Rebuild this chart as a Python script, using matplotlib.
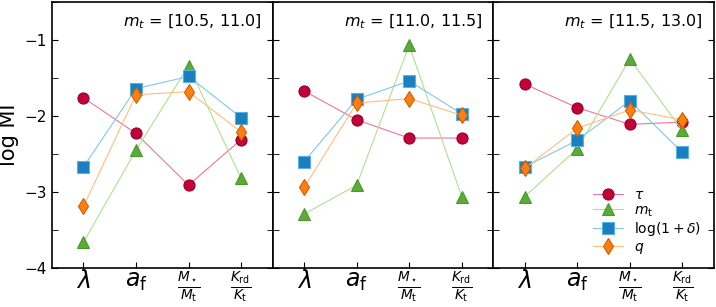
import numpy as np
import matplotlib
matplotlib.use("Agg")
import matplotlib.pyplot as plt
from matplotlib.ticker import MultipleLocator

# data
features = [r'$\lambda$', r'$a_{\rm f}$', r'$\frac{M_\star}{M_{\rm t}}$', r'$\frac{K_{\rm rd}}{K_{\rm t}}$']
bins = ['[10.5, 11.0]', '[11.0, 11.5]', '[11.5, 13.0]']

tau = [[-1.76, -2.23, -2.91, -2.31],
       [-1.67, -2.05, -2.29, -2.29],
       [-1.58, -1.89, -2.11, -2.08]]
mt = [[-3.66, -2.45, -1.34, -2.82],
      [-3.29, -2.91, -1.07, -3.06],
      [-3.06, -2.43, -1.25, -2.19]]
delta = [[-2.67, -1.64, -1.48, -2.02],
         [-2.60, -1.78, -1.54, -1.97],
         [-2.67, -2.32, -1.80, -2.48]]
q = [[-3.19, -1.72, -1.68, -2.21],
     [-2.94, -1.83, -1.77, -1.99],
     [-2.69, -2.16, -1.92, -2.05]]

series = [
    (tau, r'$\tau$', 'o', '#c4003a', '#9a0030', '#e8789a'),
    (mt, r'$m_{\rm t}$', '^', '#5aab38', '#4a9a2a', '#b0e090'),
    (delta, r'$\log(1+\delta)$', 's', '#1a7fbf', '#5ab0e0', '#80c8e8'),
    (q, r'$q$', 'd', '#ff7f0e', '#d06000', '#ffbe80'),
]

fig = plt.figure(figsize=(7.16, 3.07), dpi=100)
axes = fig.subplots(1, 3, sharey=True)
fig.subplots_adjust(left=0.0726, right=0.997, bottom=0.127, top=0.9935, wspace=0)

x = np.arange(len(features))
for i, ax in enumerate(axes):
    for data, lab, mk, fc, ec, lc in series:
        ax.plot(x, data[i], color=lc, lw=0.8, marker=mk, ms=8, mfc=fc, mec=ec,
                mew=0.8, label=lab)
    ax.set_xlim(-0.6, 3.6)
    ax.set_ylim(-4, -0.5)
    ax.set_xticks(x)
    labs = ax.set_xticklabels(features, fontsize=14)
    labs[0].set_fontsize(17)
    labs[1].set_fontsize(17)
    ax.yaxis.set_major_locator(MultipleLocator(1))
    ax.yaxis.set_minor_locator(MultipleLocator(0.5))
    ax.tick_params(axis='y', which='both', direction='in', left=True, right=True, length=4, labelsize=11)
    ax.tick_params(axis='x', direction='in', length=4, pad=1)
    ax.text(0.95, 0.925, r'$m_t$ = ' + bins[i], transform=ax.transAxes,
            ha='right', va='center', fontsize=11.5)
    for s in ax.spines.values():
        s.set_linewidth(1.2)

axes[0].set_ylabel('log MI', fontsize=15)
axes[2].legend(loc='lower right', frameon=False, fontsize=10, handlelength=2.2,
               borderaxespad=0.5, labelspacing=0.1)

fig.savefig('out.png', dpi=100)
